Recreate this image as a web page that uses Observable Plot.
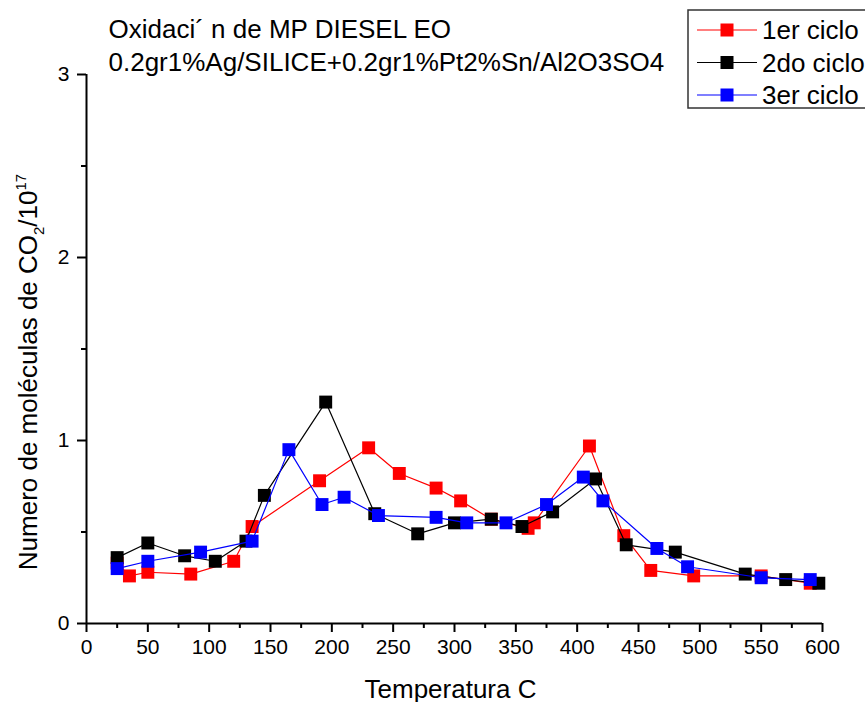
<!DOCTYPE html>
<html>
<head>
<meta charset="utf-8">
<script src="https://cdn.jsdelivr.net/npm/d3@7"></script>
<script src="https://cdn.jsdelivr.net/npm/@observablehq/plot@0.6"></script>
<style>
  html, body { margin: 0; padding: 0; background: #fff; }
  #chart { position: relative; width: 865px; height: 702px; }
</style>
</head>
<body>
<div id="chart"></div>
<script>
// ---- data ----
const titleLines = ["Oxidaci\u00B4 n de MP DIESEL EO", "0.2gr1%Ag/SILICE+0.2gr1%Pt2%Sn/Al2O3SO4"];
const xLabel = "Temperatura C";
const seriesNames = ["1er ciclo", "2do ciclo", "3er ciclo"];
const seriesColors = ["#ff0000", "#000000", "#0000ff"];

const temp1 = [25, 35, 50, 85, 120, 135, 190, 230, 255, 285, 305, 330, 360, 365, 410, 438, 460, 495, 550, 590];
const co2_1 = [0.33, 0.26, 0.28, 0.27, 0.34, 0.53, 0.78, 0.96, 0.82, 0.74, 0.67, 0.57, 0.52, 0.55, 0.97, 0.48, 0.29, 0.26, 0.26, 0.22];

const temp2 = [25, 50, 80, 105, 130, 145, 195, 235, 270, 300, 330, 355, 380, 415, 440, 480, 537, 570, 597];
const co2_2 = [0.36, 0.44, 0.37, 0.34, 0.45, 0.70, 1.21, 0.60, 0.49, 0.55, 0.57, 0.53, 0.61, 0.79, 0.43, 0.39, 0.27, 0.24, 0.22];

const temp3 = [25, 50, 93, 135, 165, 192, 210, 238, 285, 310, 342, 375, 405, 421, 465, 490, 550, 590];
const co2_3 = [0.30, 0.34, 0.39, 0.45, 0.95, 0.65, 0.69, 0.59, 0.58, 0.55, 0.55, 0.65, 0.80, 0.67, 0.41, 0.31, 0.25, 0.24];

const xTicks = [0, 50, 100, 150, 200, 250, 300, 350, 400, 450, 500, 550, 600];
const xMinor = [25, 75, 125, 175, 225, 275, 325, 375, 425, 475, 525, 575];
const yTicks = [0, 1, 2, 3];
const yMinor = [0.5, 1.5, 2.5];

// ---- build ----
const temps = [temp1, temp2, temp3];
const vals = [co2_1, co2_2, co2_3];
const series = seriesNames.map((name, i) => temps[i].map((t, j) => ({t, v: vals[i][j], name})));

const font = "'Liberation Sans', Arial, sans-serif";
const seriesMarks = series.flatMap((data, i) => [
  Plot.line(data, {x: "t", y: "v", stroke: seriesColors[i], strokeWidth: 1.2}),
  Plot.dot(data, {x: "t", y: "v", symbol: "square", r: 7.3, fill: seriesColors[i], stroke: "none"})
]);

const svg = Plot.plot({
  width: 865,
  height: 702,
  marginLeft: 86,
  marginRight: 43,
  marginTop: 74,
  marginBottom: 79,
  style: {fontFamily: font, fontSize: "21px", color: "#000", background: "#fff", overflow: "visible"},
  x: {domain: [0, 600]},
  y: {domain: [0, 3]},
  marks: [
    Plot.axisX({ticks: xTicks, tickSize: 9, tickPadding: 7, label: null, strokeWidth: 2, fontSize: 21, tickFormat: d3.format("d")}),
    Plot.axisX({ticks: xMinor, tickSize: 5, tickFormat: () => "", label: null, strokeWidth: 2}),
    Plot.axisY({ticks: yTicks, tickSize: 9, tickPadding: 8, label: null, strokeWidth: 2, fontSize: 21, tickFormat: d3.format("d")}),
    Plot.axisY({ticks: yMinor, tickSize: 5, tickFormat: () => "", label: null, strokeWidth: 2}),
    Plot.ruleX([0], {stroke: "#000", strokeWidth: 2}),
    Plot.ruleY([0], {stroke: "#000", strokeWidth: 2}),
    ...seriesMarks,
    Plot.text([titleLines.join("\n")], {frameAnchor: "top-left", text: d => d, textAnchor: "start", lineAnchor: "top", lineHeight: 1.24, dx: 22, dy: -59, fontSize: 26, fill: "#000"}),
    Plot.text([xLabel], {frameAnchor: "bottom", text: d => d, lineAnchor: "bottom", dx: -4, dy: 74, fontSize: 26, fill: "#000"})
  ]
});

const s = d3.select(svg);
// y-axis label with subscript/superscript
const yl = s.append("text")
  .attr("transform", "translate(37,372) rotate(-90)")
  .attr("text-anchor", "middle")
  .attr("font-family", font)
  .attr("font-size", 26)
  .attr("fill", "#000");
yl.append("tspan").text("Numero de mol\u00E9culas de CO");
yl.append("tspan").attr("font-size", 15).attr("dy", 7).text("2");
yl.append("tspan").attr("dy", -7).text("/10");
yl.append("tspan").attr("font-size", 15).attr("dy", -11).text("17");

// legend
const lg = s.append("g").attr("font-family", font).attr("font-size", 26).attr("text-anchor", "start");
lg.append("rect").attr("x", 688).attr("y", 10).attr("width", 190).attr("height", 98)
  .attr("fill", "#fff").attr("stroke", "#333").attr("stroke-width", 1.5);
seriesNames.forEach((name, i) => {
  const cy = 30 + i * 32.5;
  lg.append("line").attr("x1", 697).attr("x2", 757).attr("y1", cy).attr("y2", cy)
    .attr("stroke", seriesColors[i]).attr("stroke-width", 1.2);
  lg.append("rect").attr("x", 727 - 6.5).attr("y", cy - 6.5).attr("width", 13).attr("height", 13)
    .attr("fill", seriesColors[i]);
  lg.append("text").attr("x", 762).attr("y", cy + 9).attr("fill", "#000").attr("text-anchor", "start").text(name);
});

document.getElementById("chart").appendChild(svg);
</script>
</body>
</html>
